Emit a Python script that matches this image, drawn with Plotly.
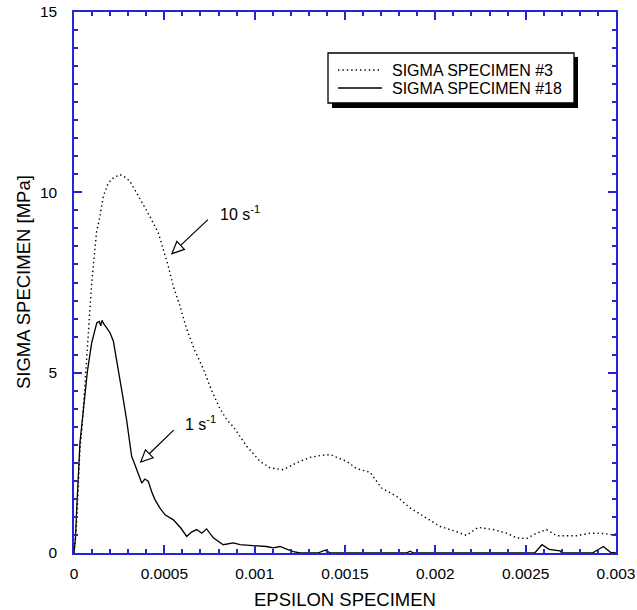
import plotly.graph_objects as go
import math

# ---------------- data ----------------
eps_s3 = [0, 0.000006, 0.000015, 0.000033, 0.000043, 0.000061, 0.000079, 0.000098, 0.000125, 0.000144,
          0.000162, 0.00019, 0.000222, 0.000255, 0.00029, 0.00031, 0.000347, 0.000384, 0.00042, 0.000467,
          0.000494, 0.000522, 0.00055, 0.000587, 0.000624, 0.00067, 0.000716, 0.000762, 0.000808, 0.000845,
          0.000882, 0.000956, 0.00103, 0.001085, 0.001158, 0.001232, 0.001306, 0.00136, 0.001417, 0.001509,
          0.001564, 0.001638, 0.001703, 0.001786, 0.00186, 0.001952, 0.002025, 0.0021, 0.002172, 0.002237,
          0.00232, 0.002394, 0.00245, 0.002505, 0.00256, 0.002616, 0.00267, 0.002782, 0.002856, 0.00293,
          0.002975, 0.003]
sig_s3 = [0, 0.3, 0.9, 2.9, 3.4, 4.7, 6.1, 7.5, 8.9, 9.35,
          9.89, 10.26, 10.42, 10.49, 10.4, 10.3, 9.98, 9.66, 9.33, 8.87,
          8.41, 7.95, 7.39, 6.84, 6.2, 5.6, 5.1, 4.5, 4.0, 3.7,
          3.5, 2.96, 2.54, 2.36, 2.31, 2.5, 2.65, 2.7, 2.73, 2.54,
          2.34, 2.24, 1.8, 1.57, 1.25, 0.97, 0.74, 0.62, 0.49, 0.71,
          0.65, 0.55, 0.42, 0.4, 0.55, 0.65, 0.48, 0.48, 0.55, 0.54,
          0.51, 0.53]

eps_s18 = [0, 0.000008, 0.000013, 0.00002, 0.000033, 0.000052, 0.000074, 0.000098, 0.000126, 0.00014,
           0.000148, 0.000155, 0.000165, 0.000181, 0.0002, 0.000218, 0.000236, 0.000254, 0.000273, 0.000291,
           0.000305, 0.000319, 0.000333, 0.000347, 0.000361, 0.000375, 0.000392, 0.000411, 0.00043, 0.000448,
           0.000475, 0.000504, 0.00055, 0.00059, 0.000624, 0.00065, 0.000679, 0.000707, 0.000734, 0.000771,
           0.000826, 0.000882, 0.000919, 0.000992, 0.001066, 0.001103, 0.00114, 0.001177, 0.001214, 0.00125,
           0.00135, 0.00139, 0.00142, 0.00145, 0.00184, 0.00186, 0.00188, 0.00255, 0.00259, 0.00263,
           0.00269, 0.0027, 0.00287, 0.00293, 0.00297, 0.003]
sig_s18 = [0, 0.4, 1.0, 1.8, 3.06, 3.97, 5.03, 5.83, 6.38, 6.42,
           6.3, 6.45, 6.35, 6.24, 6.1, 5.87, 5.36, 4.9, 4.25, 3.7,
           3.2, 2.68, 2.5, 2.31, 2.1, 1.94, 2.05, 1.99, 1.7, 1.48,
           1.25, 1.06, 0.92, 0.7, 0.46, 0.58, 0.65, 0.55, 0.67, 0.42,
           0.23, 0.28, 0.23, 0.21, 0.18, 0.14, 0.18, 0.11, 0.04, 0.0,
           0.0, 0.08, 0.0, 0.0, 0.0, 0.05, 0.0, 0.0, 0.23, 0.1,
           0.06, 0.0, 0.0, 0.18, 0.02, 0.0]

series_names = ["SIGMA SPECIMEN #3", "SIGMA SPECIMEN #18"]

x_tickvals = [0, 0.0005, 0.001, 0.0015, 0.002, 0.0025, 0.003]
x_ticktext = ["0", "0.0005", "0.001", "0.0015", "0.002", "0.0025", "0.003"]
y_tickvals = [0, 5, 10, 15]
y_ticktext = ["0", "5", "10", "15"]
x_minor = [round(i * 0.0001, 6) for i in range(31)]
y_minor = [i * 0.5 for i in range(31)]

x_title = "EPSILON SPECIMEN"
y_title = "SIGMA SPECIMEN [MPa]"

# annotation anchors (data units): text position and arrow tip
ann_labels = ["10 s<sup>-1</sup>", "1 s<sup>-1</sup>"]
ann_text_xy = [(0.000797, 9.43), (0.000603, 3.61)]
ann_tip_xy = [(0.000542, 8.30), (0.000369, 2.52)]
ann_tail_px = [(36, 34), (33, 32)]   # tail offset from tip, px (right, up)

# ---------------- style ----------------
FONT = "Arial, Liberation Sans, sans-serif"
BLUE = "#2424d8"
W, H = 637, 610
L, T = 74, 12
pw, ph = 542, 541
R, B = W - L - pw, H - T - ph
DOT = "1.4px,3px"


def px(x):
    """screen x (px) -> paper x"""
    return (x - L) / pw


def py(y):
    """screen y (px) -> paper y"""
    return (T + ph - y) / ph


fig = go.Figure()
fig.add_trace(go.Scatter(x=eps_s3, y=sig_s3, mode="lines", name=series_names[0],
                         line=dict(color="black", width=1.4, dash=DOT)))
fig.add_trace(go.Scatter(x=eps_s18, y=sig_s18, mode="lines", name=series_names[1],
                         line=dict(color="black", width=1.3)))

axis_common = dict(showline=True, linecolor=BLUE, linewidth=1.5, mirror="allticks",
                   ticks="inside", tickcolor=BLUE, tickwidth=1.5, ticklen=8,
                   showgrid=False, zeroline=False, tickmode="array", ticklabeloverflow="allow",
                   tickfont=dict(family=FONT, size=15.5, color="black"))

fig.update_xaxes(range=[0, 0.003], tickvals=x_tickvals, ticktext=x_ticktext,
                 minor=dict(ticks="inside", tickmode="array", tickvals=x_minor, ticklen=4,
                            tickcolor=BLUE, tickwidth=1.5, showgrid=False),
                 ticklabelstandoff=6, **axis_common)
fig.update_yaxes(range=[0, 15], tickvals=y_tickvals, ticktext=y_ticktext,
                 minor=dict(ticks="inside", tickmode="array", tickvals=y_minor, ticklen=4,
                            tickcolor=BLUE, tickwidth=1.5, showgrid=False),
                 ticklabelstandoff=12, **axis_common)

# axis titles
fig.add_annotation(x=px(345), y=py(599), xref="paper", yref="paper", text=x_title, showarrow=False,
                   xanchor="center", yanchor="middle", font=dict(family=FONT, size=18.5, color="black"))
fig.add_annotation(x=px(23), y=py(282), xref="paper", yref="paper", text=y_title, showarrow=False,
                   textangle=-90, xanchor="center", yanchor="middle",
                   font=dict(family=FONT, size=18.5, color="black"))

# legend box with drop shadow
fig.add_shape(type="rect", xref="paper", yref="paper", x0=px(332), x1=px(578), y0=py(108), y1=py(57),
              fillcolor="black", line=dict(width=0), layer="above")
fig.add_shape(type="rect", xref="paper", yref="paper", x0=px(328), x1=px(574), y0=py(103), y1=py(53),
              fillcolor="white", line=dict(color="black", width=1.3), layer="above")
for name, yy, dash in zip(series_names, [70, 88], [DOT, "solid"]):
    fig.add_shape(type="line", xref="paper", yref="paper", x0=px(338), x1=px(382), y0=py(yy), y1=py(yy),
                  line=dict(color="black", width=1.4, dash=dash), layer="above")
    fig.add_annotation(x=px(390), y=py(yy), xref="paper", yref="paper", text=name, showarrow=False,
                       xanchor="left", yanchor="middle", font=dict(family=FONT, size=16, color="black"))

# arrows with hollow heads
for (tx, ty), (dx, dy) in zip(ann_tip_xy, ann_tail_px):
    n = math.hypot(dx, dy)
    ux, uy = dx / n, dy / n
    hl, hw = 12, 5.5
    bx, by = ux * hl, uy * hl
    c1 = (bx - uy * hw, by + ux * hw)
    c2 = (bx + uy * hw, by - ux * hw)
    path = (f"M {dx},{dy} L {bx:.2f},{by:.2f} "
            f"M 0,0 L {c1[0]:.2f},{c1[1]:.2f} L {c2[0]:.2f},{c2[1]:.2f} Z")
    fig.add_shape(type="path", xref="x", yref="y", xsizemode="pixel", ysizemode="pixel",
                  xanchor=tx, yanchor=ty, path=path, fillcolor="white",
                  line=dict(color="black", width=1.2), layer="above")

for txt, (ax_, ay_) in zip(ann_labels, ann_text_xy):
    fig.add_annotation(x=ax_, y=ay_, xref="x", yref="y", text=txt, showarrow=False,
                       xanchor="left", yanchor="middle",
                       font=dict(family=FONT, size=16, color="black"))

fig.update_layout(width=W, height=H, margin=dict(l=L, r=R, t=T, b=B, autoexpand=False),
                  plot_bgcolor="white", paper_bgcolor="white", showlegend=False)

# the page's default 8px body margin would shift the figure and add scrollbars
page_css = ("document.documentElement.style.overflow='hidden';"
            "document.body.style.margin='0';document.body.style.overflow='hidden';")
fig.write_html("out.html", post_script=page_css, config={"displayModeBar": False})
